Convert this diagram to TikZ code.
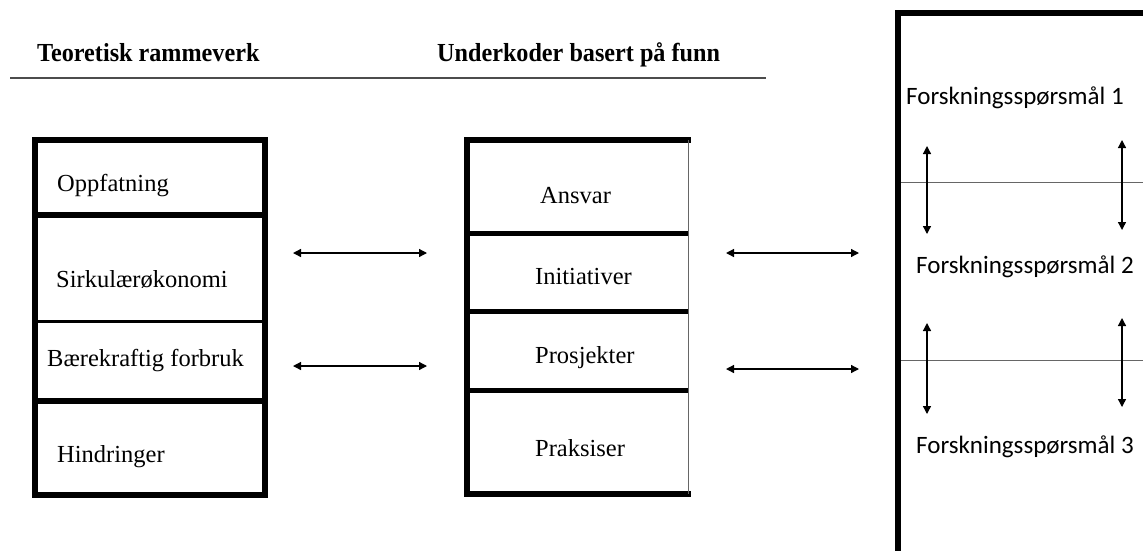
\documentclass[tikz,border=0pt]{standalone}
\usepackage{fontspec}
\setmainfont{Liberation Serif}
\newfontfamily\calibri{Carlito}
\usetikzlibrary{arrows.meta}
\begin{document}
\begin{tikzpicture}[x=1pt,y=-1pt,
  boxline/.style={line width=6pt,line cap=rect},
  midline/.style={line width=3pt},
  thinline/.style={line width=1pt,draw=black!60},
  dblarrow/.style={line width=1.3pt,{Triangle[length=8pt,width=8pt]}-{Triangle[length=8pt,width=8pt]}},
  lbl/.style={inner sep=0pt,anchor=base west,font=\fontsize{24.5}{28}\selectfont},
  hdr/.style={inner sep=0pt,anchor=base west,xscale=0.93,font=\fontsize{26}{30}\selectfont\bfseries},
  rq/.style={inner sep=0pt,anchor=base west,font=\calibri\fontsize{25}{30}\selectfont}]
\useasboundingbox (0,0) rectangle (1143,550);
\clip (0,0) rectangle (1143,550);
% headers
\node[hdr] (h1) at (37,61) {Teoretisk rammeverk};
\node[hdr] (h2) at (437,61) {Underkoder basert på funn};
\draw[line width=1.2pt,draw=black!70] (10,78) -- (766,78);
% left box
\draw[boxline] (34.5,140) rectangle (265,495);
\draw[boxline] (34.5,214.5) -- (265,214.5);
\draw[midline] (34.5,321.5) -- (265,321.5);
\draw[boxline] (34.5,401) -- (265,401);
\node[lbl] (l1) at (57,191) {Oppfatning};
\node[lbl] (l2) at (56,287) {Sirkulærøkonomi};
\node[lbl] (l3) at (47,366) {Bærekraftig forbruk};
\node[lbl] (l4) at (57,462) {Hindringer};
% middle box
\draw[boxline] (688,140) -- (467,140) -- (467,494) -- (688,494);
\draw[thinline] (688,140) -- (688,494);
\draw[line width=5pt] (467,233) -- (688,233);
\draw[line width=5pt] (467,311) -- (688,311);
\draw[line width=5pt] (467,390.5) -- (688,390.5);
\node[lbl] (m1) at (540,203) {Ansvar};
\node[lbl] (m2) at (535,284) {Initiativer};
\node[lbl] (m3) at (535,363) {Prosjekter};
\node[lbl] (m4) at (535,456) {Praksiser};
% right box
\draw[boxline] (898,570) -- (898,13) -- (1160,13);
\draw[thinline] (901,182) -- (1150,182);
\draw[thinline] (901,360) -- (1150,360);
\node[rq] (r1) at (906,104) {Forskningsspørsmål 1};
\node[rq] (r2) at (916,273) {Forskningsspørsmål 2};
\node[rq] (r3) at (916,453) {Forskningsspørsmål 3};
% arrows
\coordinate (a1s) at (293,253); \coordinate (a1e) at (427,253);
\coordinate (a2s) at (293,366); \coordinate (a2e) at (427,366);
\coordinate (a3s) at (726,253); \coordinate (a3e) at (859,253);
\coordinate (a4s) at (726,369); \coordinate (a4e) at (859,369);
\draw[dblarrow] (a1s) -- (a1e);
\draw[dblarrow] (a2s) -- (a2e);
\draw[dblarrow] (a3s) -- (a3e);
\draw[dblarrow] (a4s) -- (a4e);
\coordinate (v1s) at (927,146); \coordinate (v1e) at (927,234);
\coordinate (v2s) at (1122,140); \coordinate (v2e) at (1122,230);
\coordinate (v3s) at (927,323); \coordinate (v3e) at (927,414);
\coordinate (v4s) at (1122,318); \coordinate (v4e) at (1122,407);
\draw[dblarrow] (v1s) -- (v1e);
\draw[dblarrow] (v2s) -- (v2e);
\draw[dblarrow] (v3s) -- (v3e);
\draw[dblarrow] (v4s) -- (v4e);
\end{tikzpicture}
\end{document}
